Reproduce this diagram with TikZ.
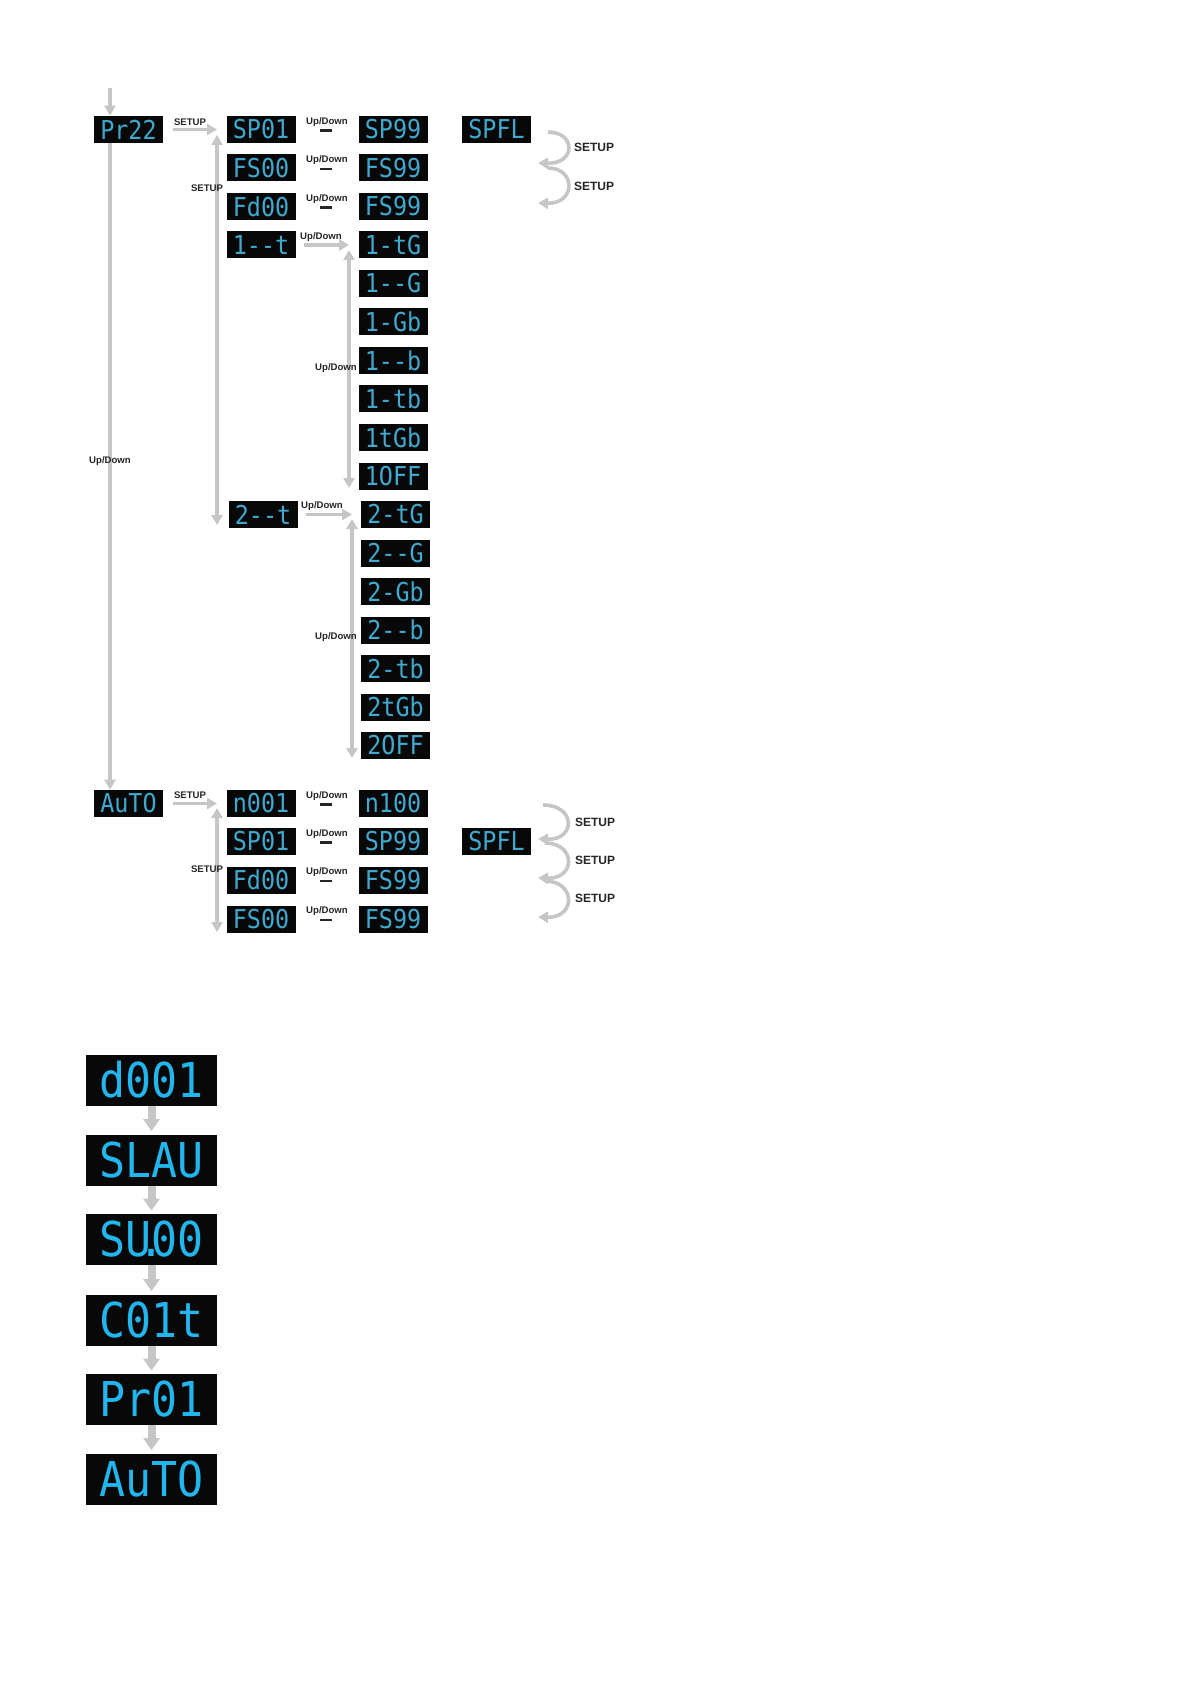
\documentclass[tikz,border=0pt]{standalone}
\usepackage{fontspec}
\setsansfont{Liberation Sans}
\newfontfamily\segfont[FakeStretch=0.9]{DejaVu Sans Mono}
\usetikzlibrary{arrows.meta,calc}
\definecolor{segA}{HTML}{3FA9CF}
\definecolor{segB}{HTML}{22B6EE}
\definecolor{arrgray}{HTML}{C6C6C6}
\definecolor{lcdbg}{HTML}{080808}
\begin{document}
\begin{tikzpicture}[x=0.5pt,y=-0.5pt,
  lcd/.style={rectangle, fill=lcdbg, minimum width=34.5pt, minimum height=13.5pt, inner sep=0pt, text=segA, font=\segfont\fontsize{13}{13}\selectfont},
  biglcd/.style={rectangle, fill=lcdbg, minimum width=65.5pt, minimum height=25.5pt, inner sep=0pt, text=segB, font=\segfont\fontsize{24}{24}\selectfont},
  arr/.style={draw=arrgray, line width=1.8pt, -{Triangle[width=5.5pt,length=5pt]}},
  darr/.style={draw=arrgray, line width=1.8pt, {Triangle[width=5.5pt,length=5pt]}-{Triangle[width=5.5pt,length=5pt]}},
  bigarr/.style={draw=arrgray, line width=4pt, -{Triangle[width=8pt,length=6pt]}, shorten >=1.5pt},
  lbl/.style={font=\sffamily\bfseries\fontsize{4.8}{5}\selectfont, inner sep=0pt, text=black!85},
  rlbl/.style={font=\sffamily\bfseries\fontsize{6}{7}\selectfont, inner sep=0pt, text=black!85},
  dashmark/.style={fill=black!85, inner sep=0pt, minimum width=6pt, minimum height=1.2pt},
]
\fill[white] (0,0) rectangle (1191,1684);
\useasboundingbox (0,0) rectangle (1191,1684);

% ---------- upper block: Pr22 ----------
\node[lcd] (pr22) at (128.5,129.5) {Pr22};
\node[lcd] (sp01) at (261,129.5) {SP01};
\node[lcd] (sp99) at (393,129.5) {SP99};
\node[lcd] (spfl) at (496.5,129.5) {SPFL};
\node[lcd] (fs00) at (261,168) {FS00};
\node[lcd] (fs99) at (393,168) {FS99};
\node[lcd] (fd00) at (261,206.5) {Fd00};
\node[lcd] (fs99b) at (393,206.5) {FS99};
\node[lcd] (ch1) at (261,245) {1--t};
\node[lcd] (c1a) at (393,245) {1-tG};
\node[lcd] (c1b) at (393,283.5) {1--G};
\node[lcd] (c1c) at (393,322) {1-Gb};
\node[lcd] (c1d) at (393,360.5) {1--b};
\node[lcd] (c1e) at (393,399) {1-tb};
\node[lcd] (c1f) at (393,437.5) {1tGb};
\node[lcd] (c1g) at (393,476) {1OFF};
\node[lcd] (ch2) at (263,514.5) {2--t};
\node[lcd] (c2a) at (395.5,514.5) {2-tG};
\node[lcd] (c2b) at (395.5,553) {2--G};
\node[lcd] (c2c) at (395.5,591.5) {2-Gb};
\node[lcd] (c2d) at (395.5,630) {2--b};
\node[lcd] (c2e) at (395.5,668.5) {2-tb};
\node[lcd] (c2f) at (395.5,707) {2tGb};
\node[lcd] (c2g) at (395.5,745.5) {2OFF};

% ---------- lower block: AuTO ----------
\node[lcd] (auto) at (128.5,803.5) {AuTO};
\node[lcd] (n001) at (261,803.5) {n001};
\node[lcd] (n100) at (393,803.5) {n100};
\node[lcd] (sp01b) at (261,841.5) {SP01};
\node[lcd] (sp99b) at (393,841.5) {SP99};
\node[lcd] (spflb) at (496.5,841.5) {SPFL};
\node[lcd] (fd00b) at (261,880) {Fd00};
\node[lcd] (fs99c) at (393,880) {FS99};
\node[lcd] (fs00b) at (261,919) {FS00};
\node[lcd] (fs99d) at (393,919) {FS99};

% ---------- coordinates ----------
\coordinate (entry) at (110,88);
\coordinate (sv) at (217,0);
\coordinate (svtop) at (217,135);
\coordinate (svbot) at (217,525);
\coordinate (v1) at (349,0);
\coordinate (v1top) at (349,250);
\coordinate (v1bot) at (349,488);
\coordinate (v2) at (352,0);
\coordinate (v2top) at (352,519);
\coordinate (v2bot) at (352,758);
\coordinate (svtopb) at (217,808);
\coordinate (svbotb) at (217,932);

% ---------- connectors (upper) ----------
\draw[arr] (entry) -- (entry |- pr22.north);
\draw[arr] (pr22.south -| entry) -- (auto.north -| entry);
\node[lbl] at (110,461) {Up/Down};
\draw[arr] ([xshift=5pt]pr22.east) -- (pr22.east -| sv);
\node[lbl] at (190,122) {SETUP};
\draw[darr] (svtop) -- (svbot);
\node[lbl] at (207,188) {SETUP};
\foreach \yy in {129.5,168,206.5,803.5,841.5,880,919}{
  \node[lbl] at (327,\yy-7.5) {Up/Down};
  \node[dashmark] at (326,\yy+1) {};
}
\draw[arr] ([xshift=4pt]ch1.east) -- (ch1.east -| v1);
\node[lbl] at (321,237) {Up/Down};
\draw[darr] (v1top) -- (v1bot);
\node[lbl] at (336,368) {Up/Down};
\draw[arr] ([xshift=4pt]ch2.east) -- (ch2.east -| v2);
\node[lbl] at (322,506) {Up/Down};
\draw[darr] (v2top) -- (v2bot);
\node[lbl] at (336,637) {Up/Down};

% SETUP loops (upper)
\coordinate (la1) at (548,132); \coordinate (la2) at (538,163);
\coordinate (la3) at (548,168); \coordinate (la4) at (538,203);
\draw[arr] (la1) .. controls (576,132) and (576,164) .. (la2);
\draw[arr] (la3) .. controls (576,168) and (576,204) .. (la4);
\node[rlbl] at (594,147) {SETUP};
\node[rlbl] at (594,186) {SETUP};

% ---------- connectors (lower) ----------
\draw[arr] ([xshift=5pt]auto.east) -- (auto.east -| sv);
\node[lbl] at (190,795) {SETUP};
\draw[darr] (svtopb) -- (svbotb);
\node[lbl] at (207,869) {SETUP};
\coordinate (lb1) at (543,805); \coordinate (lb2) at (538,839);
\coordinate (lb3) at (545,843); \coordinate (lb4) at (538,878);
\coordinate (lb5) at (545,881); \coordinate (lb6) at (538,917);
\draw[arr] (lb1) .. controls (576,805) and (576,840) .. (lb2);
\draw[arr] (lb3) .. controls (576,843) and (576,879) .. (lb4);
\draw[arr] (lb5) .. controls (576,881) and (576,918) .. (lb6);
\node[rlbl] at (595,822) {SETUP};
\node[rlbl] at (595,860) {SETUP};
\node[rlbl] at (595,898) {SETUP};

% ---------- menu sequence ----------
\node[biglcd] (d001) at (151.5,1080) {d001};
\node[biglcd] (slau) at (151.5,1160) {SLAU};
\node[biglcd] (su00) at (151.5,1239.5) {SU\makebox[0pt]{.}00};
\node[biglcd] (c01t) at (151.5,1320) {C01t};
\node[biglcd] (pr01) at (151.5,1399.5) {Pr01};
\node[biglcd] (auto2) at (151.5,1479) {AuTO};
\draw[bigarr] (d001.south) -- (slau.north);
\draw[bigarr] (slau.south) -- (su00.north);
\draw[bigarr] (su00.south) -- (c01t.north);
\draw[bigarr] (c01t.south) -- (pr01.north);
\draw[bigarr] (pr01.south) -- (auto2.north);
\end{tikzpicture}
\end{document}
